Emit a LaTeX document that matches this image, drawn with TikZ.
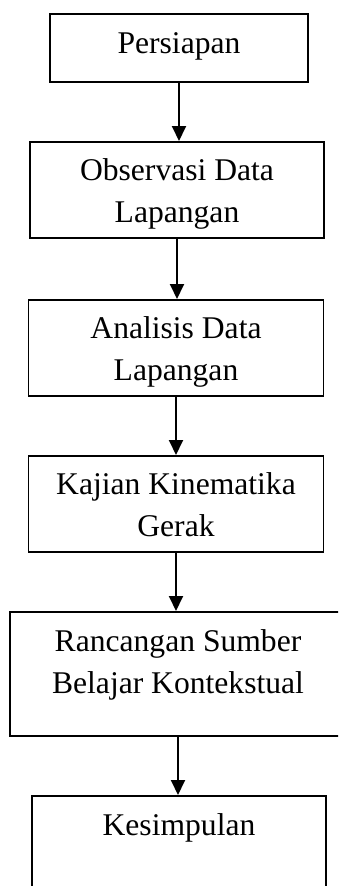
\documentclass[tikz,border=0pt]{standalone}
\usepackage{fontspec}
\setmainfont{Liberation Serif}
\usetikzlibrary{arrows.meta}

\begin{document}
\begin{tikzpicture}[
    x=1pt, y=-1pt,
    >={Triangle[length=15pt, width=14pt]},
    box/.style={rectangle, draw=black, line width=1.9pt, anchor=north, inner sep=0pt,
        align=center, font=\fontsize{31.6}{42}\selectfont},
    flow/.style={->, line width=1.9pt}
]
\useasboundingbox (0,0) rectangle (338,886);
\clip (0,0) rectangle (338,886);

% Steps
\node[box, minimum width=258pt, text height=40pt, text depth=28pt] (persiapan) at (179,13) {Persiapan};
\node[box, minimum width=294pt, text height=81pt, text depth=15pt] (observasi) at (177,141) {Observasi Data\\Lapangan};
\node[box, minimum width=295pt, text height=81pt, text depth=15pt] (analisis) at (176,299) {Analisis Data\\Lapangan};
\node[box, minimum width=295pt, text height=81pt, text depth=15pt] (kajian) at (176,455) {Kajian Kinematika\\Gerak};
\node[box, minimum width=336pt, text height=82pt, text depth=42pt] (rancangan) at (178,611) {Rancangan Sumber\\Belajar Kontekstual};
\node[box, minimum width=294pt, text height=40pt, text depth=80pt] (kesimpulan) at (179,795) {Kesimpulan};

% Arrows
\draw[flow] (persiapan.south) -- (persiapan.south |- observasi.north);
\draw[flow] (observasi.south) -- (observasi.south |- analisis.north);
\draw[flow] (analisis.south) -- (analisis.south |- kajian.north);
\draw[flow] (kajian.south) -- (kajian.south |- rancangan.north);
\draw[flow] (rancangan.south) -- (rancangan.south |- kesimpulan.north);

\end{tikzpicture}
\end{document}
